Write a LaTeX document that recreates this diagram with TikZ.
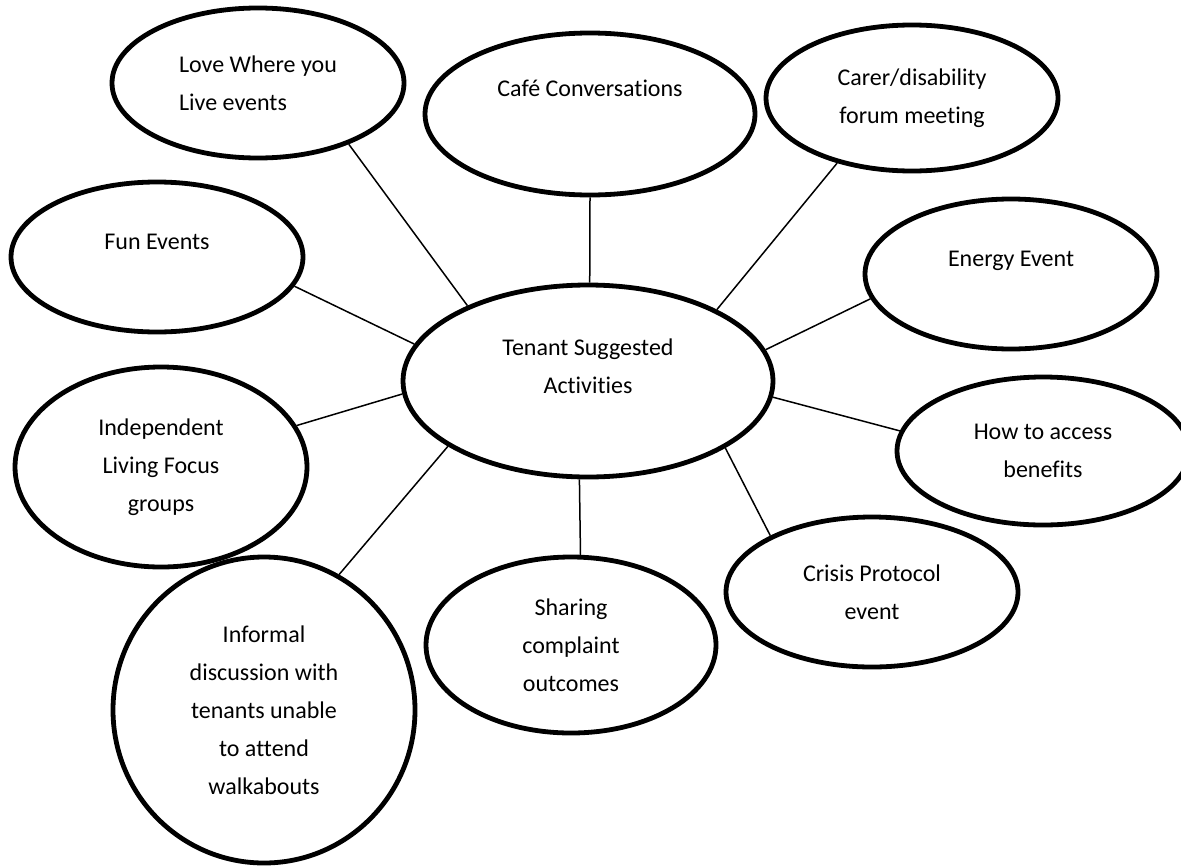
\documentclass[tikz,border=0pt]{standalone}
\usepackage{fontspec}
\setmainfont{Carlito}[Ligatures=NoCommon]
\usetikzlibrary{shapes.geometric}

\begin{document}
\begin{tikzpicture}[x=0.5pt, y=-0.5pt,
  bubble/.style={draw, ellipse, line width=2.4pt, inner sep=0pt, align=center,
    font=\fontsize{12pt}{19pt}\selectfont},
  spoke/.style={line width=0.75pt}]
\useasboundingbox (0,0) rectangle (1181,867);
\node[bubble, minimum width=185pt, minimum height=96pt] (hub) at (588,381) {Tenant Suggested\\Activities\\[-4pt]~};
\node[bubble, align=left, minimum width=146pt, minimum height=75pt] (love) at (258,83) {Love Where you\\Live events};
\node[bubble, minimum width=165pt, minimum height=81pt] (cafe) at (590,114) {Café Conversations\\[7pt]~};
\node[bubble, minimum width=146pt, minimum height=73pt] (carer) at (912,98) {Carer/disability\\forum meeting};
\node[bubble, minimum width=146pt, minimum height=75pt] (energy) at (1011,274) {Energy Event\\[-4pt]~};
\node[bubble, minimum width=146pt, minimum height=75pt] (fun) at (157,257) {Fun Events\\[-4pt]~};
\node[bubble, minimum width=146pt, minimum height=100pt] (indep) at (161,467) {Independent\\Living Focus\\groups};
\node[bubble, minimum width=146pt, minimum height=74pt] (access) at (1043,451) {How to access\\benefits};
\node[bubble, minimum width=146pt, minimum height=75pt] (crisis) at (872,592) {Crisis Protocol\\event};
\node[bubble, minimum width=145pt, minimum height=88pt] (sharing) at (571,645) {Sharing\\complaint\\outcomes};
\node[bubble, minimum width=151pt, minimum height=153pt] (informal) at (264,710) {Informal\\discussion with\\tenants unable\\to attend\\walkabouts};
\foreach \n/\a/\b in {love/-34.8/148.6, cafe/-90/89, carer/221.1/29.9, fun/-12.4/168.4,
  energy/190.7/10.6, indep/17.6/184.9, access/172.4/-5, crisis/151.2/-26.9,
  sharing/84.9/-95.3, informal/61.9/205.9}
  \draw[spoke] (\n.\a) -- (hub.\b);
\end{tikzpicture}
\end{document}
